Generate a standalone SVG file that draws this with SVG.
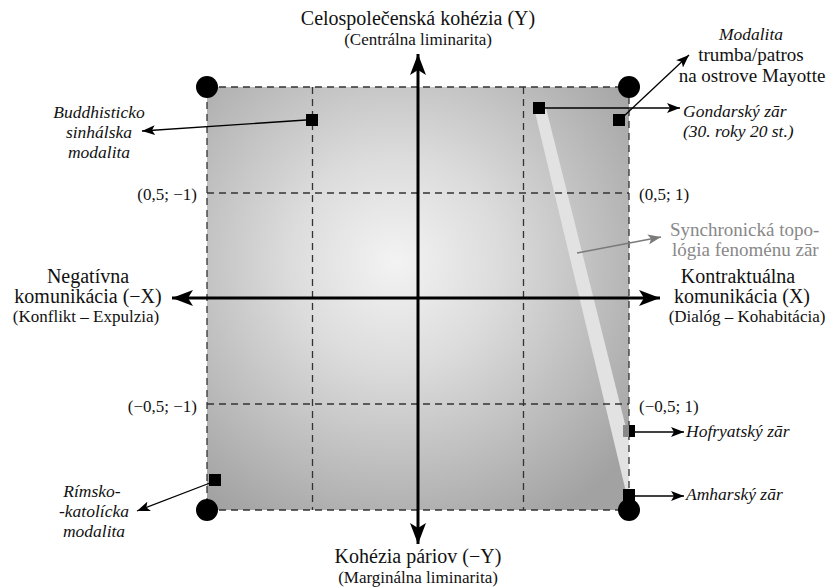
<svg xmlns="http://www.w3.org/2000/svg" width="830" height="588" viewBox="0 0 830 588" font-family="'Liberation Serif', 'DejaVu Serif', serif">
<defs>
<radialGradient id="bg" gradientUnits="userSpaceOnUse" cx="395" cy="262" r="300">
<stop offset="0" stop-color="#f3f3f3"/>
<stop offset="0.35" stop-color="#dcdcdc"/>
<stop offset="1" stop-color="#a2a2a2"/>
</radialGradient>
<marker id="ah" markerUnits="userSpaceOnUse" markerWidth="14" markerHeight="10" viewBox="0 0 14 10" refX="13" refY="5" orient="auto">
<path d="M0,0 L13,5 L0,10 L3,5 Z" fill="#000"/>
</marker>
<marker id="ahg" markerUnits="userSpaceOnUse" markerWidth="14" markerHeight="10" viewBox="0 0 14 10" refX="13" refY="5" orient="auto">
<path d="M0,0 L13,5 L0,10 L3,5 Z" fill="#7a7a7a"/>
</marker>
<marker id="big" markerUnits="userSpaceOnUse" markerWidth="22" markerHeight="16" viewBox="0 0 22 16" refX="21" refY="8" orient="auto">
<path d="M0,0 L21,8 L0,16 L5,8 Z" fill="#000"/>
</marker>
</defs>
<style>
text{font-family:'Liberation Serif','DejaVu Serif',serif;fill:#111}
.lbl{font-size:20px}
.sub{font-size:17px}
.it{font-style:italic;font-size:17.5px}
.co{font-size:17px}
.gr{font-size:19px;fill:#888}
.grid{stroke:#333;stroke-width:1.3;stroke-dasharray:7 5;fill:none}
.thin{stroke:#000;stroke-width:1.3;fill:none}
.axis{stroke:#000;stroke-width:3;fill:none}
.mk{fill:#000}
</style>

<g id="plane">
<rect x="207" y="87" width="422" height="423" fill="url(#bg)"/>
<polygon points="534,108 546,108 629,440 629,492 626,492" fill="#e2e2e2"/>
</g>

<g id="grid">
<rect class="grid" x="207" y="87" width="422" height="423"/>
<line class="grid" x1="312.5" y1="87" x2="312.5" y2="510"/>
<line class="grid" x1="523.5" y1="87" x2="523.5" y2="510"/>
<line class="grid" x1="207" y1="193" x2="629" y2="193"/>
<line class="grid" x1="207" y1="404" x2="629" y2="404"/>
</g>

<g id="corners">
<circle cx="207" cy="87" r="11" class="mk"/>
<circle cx="629" cy="87" r="11" class="mk"/>
<circle cx="207" cy="510" r="11" class="mk"/>
<circle cx="629" cy="510" r="11" class="mk"/>
</g>

<g id="connectors">
<line class="axis" x1="418" y1="298" x2="418" y2="54" marker-end="url(#big)"/>
<line class="axis" x1="418" y1="298" x2="418" y2="544" marker-end="url(#big)"/>
<line class="axis" x1="418" y1="298" x2="172" y2="298" marker-end="url(#big)"/>
<line class="axis" x1="418" y1="298" x2="660" y2="298" marker-end="url(#big)"/>
<line class="thin" x1="306" y1="120" x2="142" y2="131" marker-end="url(#ah)"/>
<line class="thin" x1="545" y1="108" x2="680" y2="108" marker-end="url(#ah)"/>
<line class="thin" x1="624" y1="116" x2="689" y2="55" marker-end="url(#ah)"/>
<line class="thin" x1="210" y1="483" x2="137" y2="511" marker-end="url(#ah)"/>
<line class="thin" x1="635" y1="432" x2="684" y2="432" marker-end="url(#ah)"/>
<line class="thin" x1="635" y1="496" x2="684" y2="496" marker-end="url(#ah)"/>
<line x1="577" y1="253" x2="661" y2="237" stroke="#7a7a7a" stroke-width="1.5" marker-end="url(#ahg)"/>
</g>

<g id="buddhist">
<rect x="306" y="114" width="12" height="12" class="mk"/>
<text class="it" text-anchor="middle" x="99" y="118">Buddhisticko</text>
<text class="it" text-anchor="middle" x="99" y="138">sinhálska</text>
<text class="it" text-anchor="middle" x="99" y="158">modalita</text>
</g>

<g id="gondar">
<rect x="533" y="102" width="12" height="12" class="mk"/>
<text class="it" x="683" y="117">Gondarský zār</text>
<text class="it" x="683" y="137">(30. roky 20 st.)</text>
</g>

<g id="mayotte">
<rect x="613" y="114" width="12" height="12" class="mk"/>
<text class="it" text-anchor="middle" x="751" y="40">Modalita</text>
<text text-anchor="middle" x="751" y="61" style="font-size:19px">trumba/patros</text>
<text text-anchor="middle" x="752" y="82" style="font-size:19px">na ostrove Mayotte</text>
</g>

<g id="roman">
<rect x="209" y="474" width="12" height="12" class="mk"/>
<text class="it" text-anchor="middle" x="92" y="497">Rímsko-</text>
<text class="it" text-anchor="middle" x="94" y="517">-katolícka</text>
<text class="it" text-anchor="middle" x="94" y="537">modalita</text>
</g>

<g id="hofryat">
<rect x="623" y="425" width="6" height="12" fill="#888"/>
<rect x="629" y="425" width="6" height="12" class="mk"/>
<text class="it" x="686" y="437">Hofryatský zār</text>
</g>

<g id="amhar">
<rect x="623" y="489" width="12" height="13" class="mk"/>
<text class="it" x="686" y="500">Amharský zār</text>
</g>

<g id="topology">
<text class="gr" x="670" y="236">Synchronická topo-</text>
<text class="gr" x="672" y="256">lógia fenoménu zār</text>
</g>

<g id="label-y">
<text class="lbl" text-anchor="middle" x="418" y="25">Celospolečenská kohézia (Y)</text>
<text class="sub" text-anchor="middle" x="418" y="45">(Centrálna liminarita)</text>
</g>
<g id="label-ny">
<text class="lbl" text-anchor="middle" x="418" y="563">Kohézia páriov (−Y)</text>
<text class="sub" text-anchor="middle" x="418" y="583">(Marginálna liminarita)</text>
</g>
<g id="label-nx">
<text class="lbl" text-anchor="middle" x="88" y="283">Negatívna</text>
<text class="lbl" text-anchor="middle" x="88" y="303">komunikácia (−X)</text>
<text class="sub" text-anchor="middle" x="86" y="322">(Konflikt – Expulzia)</text>
</g>
<g id="label-x">
<text class="lbl" text-anchor="middle" x="738" y="283">Kontraktuálna</text>
<text class="lbl" text-anchor="middle" x="742" y="303">komunikácia (X)</text>
<text class="sub" text-anchor="middle" x="747" y="322">(Dialóg – Kohabitácia)</text>
</g>

<g id="coords">
<text class="co" text-anchor="end" x="197" y="200">(0,5; −1)</text>
<text class="co" x="639" y="200">(0,5; 1)</text>
<text class="co" text-anchor="end" x="197" y="412">(−0,5; −1)</text>
<text class="co" x="639" y="412">(−0,5; 1)</text>
</g>
</svg>
